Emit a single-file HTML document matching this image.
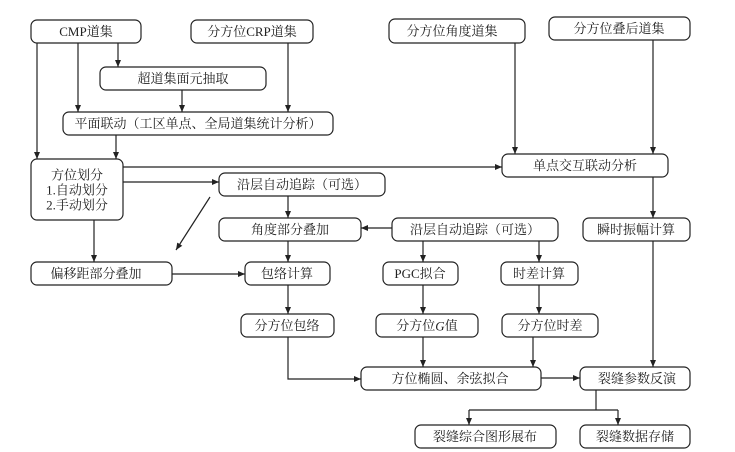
<!DOCTYPE html>
<html><head><meta charset="utf-8"><style>
html,body{margin:0;padding:0;background:#fff;}
svg{display:block;}
text{font-family:"Liberation Serif","Noto Serif CJK SC",serif;font-size:13px;fill:#222;text-anchor:middle;dominant-baseline:central;}
rect{fill:#fff;stroke:#222;stroke-width:1.2;}
line,polyline{stroke:#222;stroke-width:1.2;fill:none;}
</style></head><body>
<svg width="735" height="452" viewBox="0 0 735 452" xmlns="http://www.w3.org/2000/svg">
<defs><marker id="a" markerWidth="8" markerHeight="8" refX="7" refY="3" orient="auto" markerUnits="userSpaceOnUse"><path d="M0,0 L7,3 L0,6 z" fill="#222"/></marker></defs>
<!-- connectors -->
<line x1="37" y1="43" x2="37" y2="159" marker-end="url(#a)"/>
<line x1="78" y1="43" x2="78" y2="112" marker-end="url(#a)"/>
<line x1="118" y1="43" x2="118" y2="67" marker-end="url(#a)"/>
<line x1="288" y1="43" x2="288" y2="112" marker-end="url(#a)"/>
<line x1="182" y1="90" x2="182" y2="112" marker-end="url(#a)"/>
<line x1="116" y1="135" x2="116" y2="159" marker-end="url(#a)"/>
<line x1="515" y1="43" x2="515" y2="154" marker-end="url(#a)"/>
<line x1="653" y1="40" x2="653" y2="154" marker-end="url(#a)"/>
<line x1="123" y1="167" x2="502" y2="167" marker-end="url(#a)"/>
<line x1="123" y1="182" x2="219" y2="182" marker-end="url(#a)"/>
<line x1="210" y1="197" x2="176" y2="250" marker-end="url(#a)"/>
<line x1="94" y1="220" x2="94" y2="262" marker-end="url(#a)"/>
<line x1="288" y1="196" x2="288" y2="218" marker-end="url(#a)"/>
<line x1="392" y1="228" x2="361" y2="228" marker-end="url(#a)"/>
<line x1="172" y1="274" x2="245" y2="274" marker-end="url(#a)"/>
<line x1="288" y1="241" x2="288" y2="262" marker-end="url(#a)"/>
<line x1="288" y1="285" x2="288" y2="314" marker-end="url(#a)"/>
<polyline points="288,337 288,379 361,379" marker-end="url(#a)"/>
<line x1="423" y1="241" x2="423" y2="262" marker-end="url(#a)"/>
<line x1="539" y1="241" x2="539" y2="262" marker-end="url(#a)"/>
<line x1="423" y1="285" x2="423" y2="314" marker-end="url(#a)"/>
<line x1="539" y1="285" x2="539" y2="314" marker-end="url(#a)"/>
<line x1="423" y1="337" x2="423" y2="367" marker-end="url(#a)"/>
<line x1="533" y1="337" x2="533" y2="367" marker-end="url(#a)"/>
<line x1="653" y1="177" x2="653" y2="218" marker-end="url(#a)"/>
<line x1="653" y1="241" x2="653" y2="367" marker-end="url(#a)"/>
<line x1="541" y1="378" x2="580" y2="378" marker-end="url(#a)"/>
<line x1="596" y1="390" x2="596" y2="410"/>
<line x1="469" y1="410" x2="618" y2="410"/>
<line x1="469" y1="410" x2="469" y2="425" marker-end="url(#a)"/>
<line x1="618" y1="410" x2="618" y2="425" marker-end="url(#a)"/>
<!-- boxes -->
<rect x="31" y="20" width="110" height="23" rx="6"/><text x="86" y="31.5">CMP道集</text>
<rect x="191" y="20" width="122" height="23" rx="6"/><text x="252" y="31.5">分方位CRP道集</text>
<rect x="389" y="19" width="136" height="24" rx="6"/><text x="452" y="31">分方位角度道集</text>
<rect x="549" y="17" width="141" height="23" rx="6"/><text x="619" y="28.5">分方位叠后道集</text>
<rect x="100" y="67" width="166" height="23" rx="6"/><text x="183" y="78.5">超道集面元抽取</text>
<rect x="63" y="112" width="270" height="23" rx="6"/><text x="198" y="123.5">平面联动（工区单点、全局道集统计分析）</text>
<rect x="31" y="159" width="92" height="61" rx="6"/>
<text x="77" y="175">方位划分</text><text x="77" y="190">1.自动划分</text><text x="77" y="205">2.手动划分</text>
<rect x="219" y="173" width="166" height="23" rx="6"/><text x="302" y="184.5">沿层自动追踪（可选）</text>
<rect x="502" y="154" width="166" height="23" rx="6"/><text x="585" y="165.5">单点交互联动分析</text>
<rect x="219" y="218" width="142" height="23" rx="6"/><text x="290" y="229.5">角度部分叠加</text>
<rect x="392" y="218" width="166" height="23" rx="6"/><text x="475" y="229.5">沿层自动追踪（可选）</text>
<rect x="583" y="218" width="107" height="23" rx="6"/><text x="636" y="229.5">瞬时振幅计算</text>
<rect x="31" y="262" width="141" height="23" rx="6"/><text x="96" y="273.5">偏移距部分叠加</text>
<rect x="245" y="262" width="85" height="23" rx="6"/><text x="287" y="273.5">包络计算</text>
<rect x="383" y="262" width="75" height="23" rx="6"/><text x="420" y="273.5">PGC拟合</text>
<rect x="501" y="262" width="77" height="23" rx="6"/><text x="539" y="273.5">时差计算</text>
<rect x="241" y="314" width="93" height="23" rx="6"/><text x="287" y="325.5">分方位包络</text>
<rect x="376" y="314" width="102" height="23" rx="6"/><text x="427" y="325.5">分方位<tspan font-style="italic">G</tspan>值</text>
<rect x="502" y="314" width="96" height="23" rx="6"/><text x="550" y="325.5">分方位时差</text>
<rect x="361" y="367" width="180" height="23" rx="6"/><text x="450" y="378.5">方位椭圆、余弦拟合</text>
<rect x="580" y="367" width="110" height="23" rx="6"/><text x="637" y="378.5">裂缝参数反演</text>
<rect x="415" y="425" width="141" height="23" rx="6"/><text x="485" y="436.5">裂缝综合图形展布</text>
<rect x="580" y="425" width="110" height="23" rx="6"/><text x="635" y="436.5">裂缝数据存储</text>
</svg>
</body></html>
